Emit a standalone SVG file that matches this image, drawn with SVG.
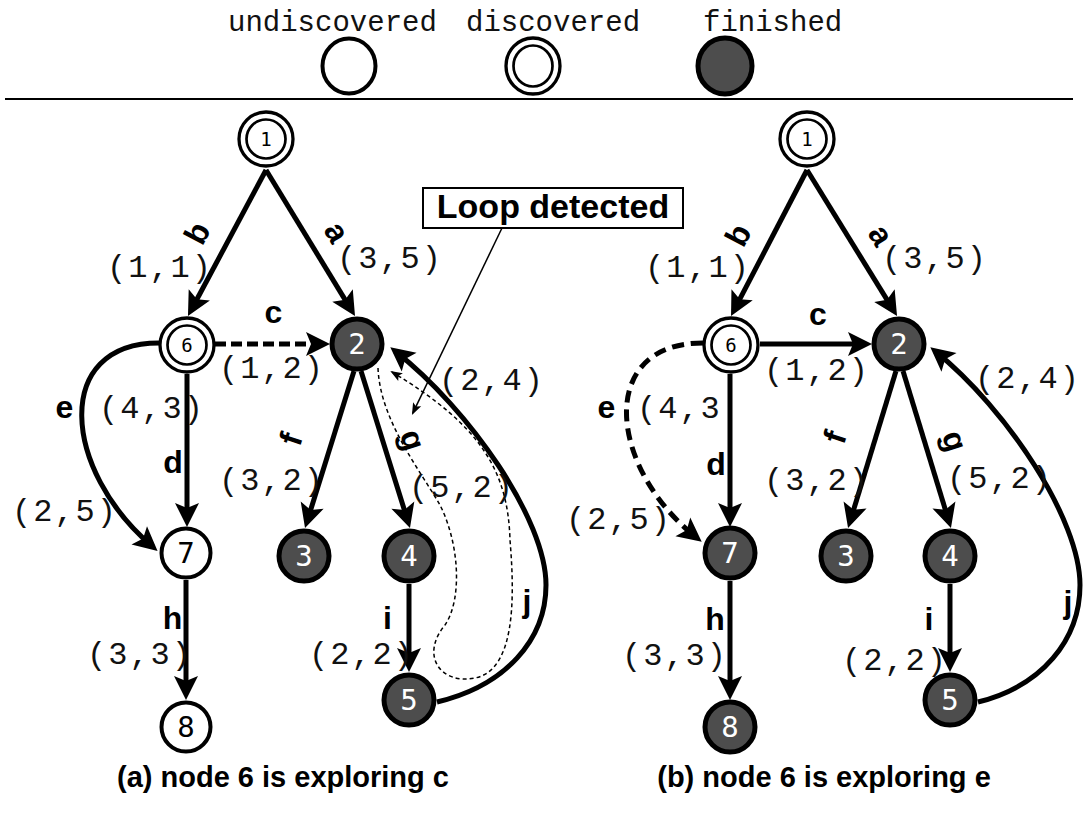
<svg xmlns="http://www.w3.org/2000/svg" width="1084" height="813" viewBox="0 0 1084 813">
<style>
.leg{font-family:"Liberation Mono","Courier New",monospace;font-size:29px;fill:#111}
.cl{font-family:"Liberation Mono","Courier New",monospace;font-size:32px;letter-spacing:2px;fill:#111}
.el{font-family:"Liberation Sans",Arial,sans-serif;font-weight:bold;font-size:32px;text-anchor:middle;fill:#000}
.cap{font-family:"Liberation Sans",Arial,sans-serif;font-weight:bold;font-size:29px;text-anchor:middle;fill:#000}
.out{fill:#fff;stroke:#000;stroke-width:3.3}
.inn{fill:none;stroke:#000;stroke-width:2.7}
.und{fill:#fff;stroke:#000;stroke-width:4}
.fin{fill:#4d4d4d;stroke:#000;stroke-width:5}
.ns{font-family:"DejaVu Sans Mono",monospace;font-size:19px;text-anchor:middle;fill:#000}
.nb{font-family:"DejaVu Sans Mono",monospace;font-size:29px;text-anchor:middle;fill:#000}
.nw{font-family:"DejaVu Sans Mono",monospace;font-size:29px;text-anchor:middle;fill:#fff}
.e{fill:none;stroke:#000;stroke-width:5;marker-end:url(#ah)}
.dash{stroke-dasharray:11 5}
.dash2{stroke-dasharray:12 7}
.thin{fill:none;stroke:#000;stroke-width:1.5}
</style>
<defs>
<marker id="ah" markerUnits="userSpaceOnUse" markerWidth="26" markerHeight="26" refX="18" refY="12" orient="auto" overflow="visible"><path d="M0,0 L24,12 L0,24 L5,12 z" fill="#000"/></marker>
<marker id="sa" markerUnits="userSpaceOnUse" markerWidth="14" markerHeight="12" refX="10" refY="4.5" orient="auto" overflow="visible"><path d="M0,0 L12,4.5 L0,9 L2.5,4.5 z" fill="#000"/></marker>
</defs>
<rect width="1084" height="813" fill="#fff"/>

<g id="legend">
<text class="leg" x="228" y="31">undiscovered</text>
<text class="leg" x="466" y="31">discovered</text>
<text class="leg" x="703" y="31">finished</text>
<ellipse class="und" cx="349" cy="66" rx="26.5" ry="27.5"/>
<ellipse class="out" cx="533" cy="66" rx="27" ry="28"/>
<ellipse class="inn" cx="533" cy="66" rx="19.5" ry="20.5"/>
<ellipse class="fin" cx="725" cy="66" rx="27" ry="28"/>
<line x1="5" y1="99" x2="1073" y2="99" stroke="#000" stroke-width="2"/>
</g>

<g id="connectors">
<!-- left graph -->
<line class="e" x1="266" y1="170" x2="351.9" y2="310.9"/>
<line class="e" x1="266" y1="170" x2="190.8" y2="310.7"/>
<line class="e dash" x1="215" y1="344" x2="324" y2="344"/>
<line class="e" x1="187" y1="374" x2="187" y2="521"/>
<path class="e" d="M159,343 C52,343 62,470 153,547"/>
<line class="e" x1="186" y1="580" x2="186" y2="694"/>
<line class="e" x1="354" y1="371" x2="306.8" y2="522.3"/>
<line class="e" x1="361" y1="371" x2="408.2" y2="522.3"/>
<line class="e" x1="409" y1="584" x2="409" y2="666"/>
<path class="e" d="M437,702 C505,686 546,640 546,585 C546,520 470,410 395,351"/>
<path class="thin" stroke-dasharray="4 3" marker-end="url(#sa)" d="M378,368 C380,420 420,470 440,505 C460,545 462,600 445,625 C420,655 440,685 475,678 C515,670 515,600 510,540 C508,470 480,425 392,372"/>
<line class="thin" x1="502" y1="228" x2="412.8" y2="413.2" marker-end="url(#sa)"/>
<!-- right graph -->
<line class="e" x1="807" y1="170" x2="893.9" y2="310.9"/>
<line class="e" x1="807" y1="170" x2="733.8" y2="310.7"/>
<line class="e" x1="760" y1="344" x2="866" y2="344"/>
<line class="e" x1="730" y1="374" x2="730" y2="521"/>
<path class="e dash2" d="M703,343 C596,343 608,468 697,538"/>
<line class="e" x1="730" y1="581" x2="730" y2="694"/>
<line class="e" x1="896" y1="371" x2="849.8" y2="522.3"/>
<line class="e" x1="903" y1="371" x2="949.2" y2="522.3"/>
<line class="e" x1="950" y1="584" x2="950" y2="666"/>
<path class="e" d="M978,702 C1042,686 1080,640 1080,585 C1080,520 1008,410 935,351"/>
</g>

<g id="loop-label">
<rect x="423" y="188" width="260" height="40" fill="#fff" stroke="#000" stroke-width="2"/>
<text x="553" y="218" font-family="Liberation Sans, Arial, sans-serif" font-weight="bold" font-size="34" text-anchor="middle">Loop detected</text>
</g>

<g id="edge-labels-left">
<text class="el" transform="translate(197,233) rotate(-62)" dominant-baseline="central">b</text>
<text class="el" transform="translate(337,232) rotate(59)" dominant-baseline="central">a</text>
<text class="el" x="273.5" y="323">c</text>
<text class="el" x="173" y="473">d</text>
<text class="el" x="64.5" y="418">e</text>
<text class="el" transform="translate(291,439) rotate(-72)" dominant-baseline="central">f</text>
<text class="el" transform="translate(413,440) rotate(72)" dominant-baseline="central">g</text>
<text class="el" x="172.5" y="629">h</text>
<text class="el" x="387.5" y="629">i</text>
<text class="el" x="527" y="612">j</text>
<text class="cl" x="107" y="277">(1,1)</text>
<text class="cl" x="337" y="268">(3,5)</text>
<text class="cl" x="219" y="378">(1,2)</text>
<text class="cl" x="99" y="418">(4,3)</text>
<text class="cl" x="12" y="521">(2,5)</text>
<text class="cl" x="219" y="490">(3,2)</text>
<text class="cl" x="409" y="497">(5,2)</text>
<text class="cl" x="439" y="390">(2,4)</text>
<text class="cl" x="87" y="664">(3,3)</text>
<text class="cl" x="309" y="664">(2,2)</text>
</g>

<g id="edge-labels-right">
<text class="el" transform="translate(738,235) rotate(-62)" dominant-baseline="central">b</text>
<text class="el" transform="translate(881,235) rotate(58)" dominant-baseline="central">a</text>
<text class="el" x="818" y="325">c</text>
<text class="el" x="716" y="475">d</text>
<text class="el" x="606.5" y="418">e</text>
<text class="el" transform="translate(835,437) rotate(-72)" dominant-baseline="central">f</text>
<text class="el" transform="translate(955,441) rotate(72)" dominant-baseline="central">g</text>
<text class="el" x="715" y="630">h</text>
<text class="el" x="929" y="630">i</text>
<text class="el" x="1068" y="613">j</text>
<text class="cl" x="645" y="277">(1,1)</text>
<text class="cl" x="882" y="268">(3,5)</text>
<text class="cl" x="764" y="380">(1,2)</text>
<text class="cl" x="637" y="418">(4,3</text>
<text class="cl" x="566" y="529">(2,5)</text>
<text class="cl" x="764" y="490">(3,2)</text>
<text class="cl" x="947" y="488">(5,2)</text>
<text class="cl" x="975" y="388">(2,4)</text>
<text class="cl" x="622" y="665">(3,3)</text>
<text class="cl" x="842" y="670">(2,2)</text>
</g>

<g id="a-node1"><circle class="out" cx="266" cy="139" r="27"/><circle class="inn" cx="266" cy="139" r="19.5"/><text class="ns" x="266" y="146">1</text></g>
<g id="a-node6"><circle class="out" cx="187" cy="345" r="27"/><circle class="inn" cx="187" cy="345" r="19.5"/><text class="ns" x="187" y="352">6</text></g>
<g id="a-node2"><circle class="fin" cx="357" cy="344" r="25"/><text class="nw" x="357" y="354">2</text></g>
<g id="a-node7"><circle class="und" cx="186" cy="553" r="24.5"/><text class="nb" x="186" y="563">7</text></g>
<g id="a-node8"><circle class="und" cx="186" cy="727" r="24.5"/><text class="nb" x="186" y="737">8</text></g>
<g id="a-node3"><circle class="fin" cx="304" cy="556" r="25"/><text class="nw" x="304" y="566">3</text></g>
<g id="a-node4"><circle class="fin" cx="409" cy="556" r="25"/><text class="nw" x="409" y="566">4</text></g>
<g id="a-node5"><circle class="fin" cx="409" cy="700" r="25"/><text class="nw" x="409" y="710">5</text></g>

<g id="b-node1"><circle class="out" cx="807" cy="139" r="27"/><circle class="inn" cx="807" cy="139" r="19.5"/><text class="ns" x="807" y="146">1</text></g>
<g id="b-node6"><circle class="out" cx="731" cy="345" r="27"/><circle class="inn" cx="731" cy="345" r="19.5"/><text class="ns" x="731" y="352">6</text></g>
<g id="b-node2"><circle class="fin" cx="899" cy="344" r="25"/><text class="nw" x="899" y="354">2</text></g>
<g id="b-node7"><circle class="fin" cx="730" cy="553" r="25"/><text class="nw" x="730" y="563">7</text></g>
<g id="b-node8"><circle class="fin" cx="730" cy="727" r="25"/><text class="nw" x="730" y="737">8</text></g>
<g id="b-node3"><circle class="fin" cx="846" cy="556" r="25"/><text class="nw" x="846" y="566">3</text></g>
<g id="b-node4"><circle class="fin" cx="950" cy="556" r="25"/><text class="nw" x="950" y="566">4</text></g>
<g id="b-node5"><circle class="fin" cx="950" cy="700" r="25"/><text class="nw" x="950" y="710">5</text></g>

<g id="captions">
<text class="cap" x="283" y="787">(a) node 6 is exploring c</text>
<text class="cap" x="824" y="787">(b) node 6 is exploring e</text>
</g>
</svg>
